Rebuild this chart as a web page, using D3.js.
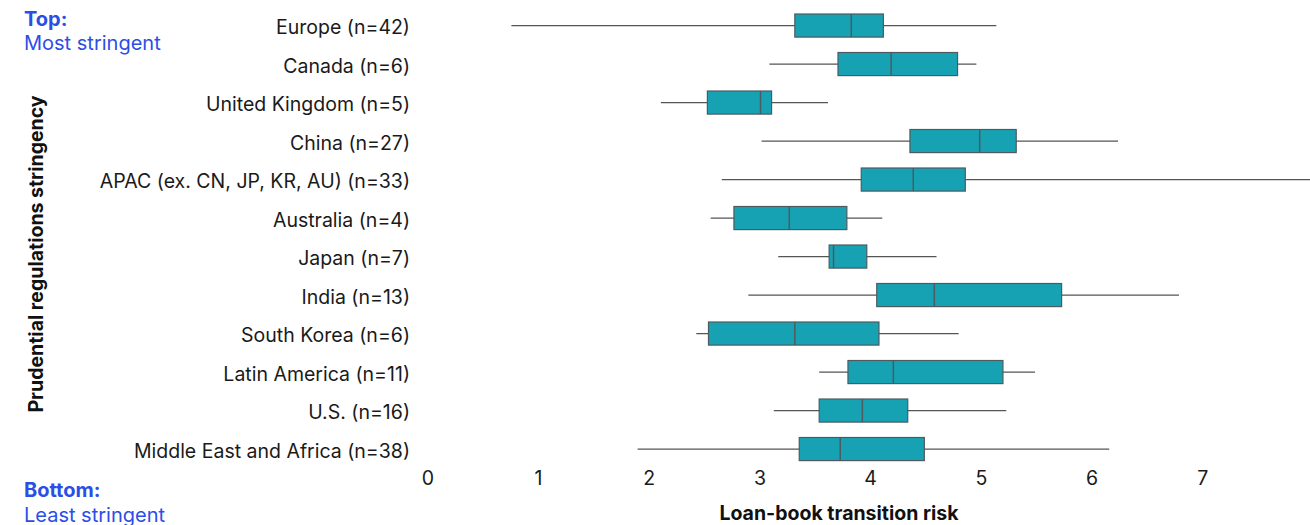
<!DOCTYPE html>
<html>
<head>
<meta charset="utf-8">
<script src="https://cdn.jsdelivr.net/npm/d3@7"></script>
<style>
  html, body { margin: 0; padding: 0; background: #fff; }
  svg { display: block; font-family: Inter, "Noto Sans", sans-serif; }
</style>
</head>
<body>
<svg id="chart" width="1310" height="525"></svg>
<script>
// Regions, ordered from most to least stringent prudential regulation
const regions = [
  "Europe (n=42)", "Canada (n=6)", "United Kingdom (n=5)", "China (n=27)",
  "APAC (ex. CN, JP, KR, AU) (n=33)", "Australia (n=4)", "Japan (n=7)",
  "India (n=13)", "South Korea (n=6)", "Latin America (n=11)",
  "U.S. (n=16)", "Middle East and Africa (n=38)"
];
// Five-number summaries of loan-book transition risk per region
const whiskerLow  = [0.76, 3.09, 2.11, 3.02, 2.66, 2.56, 3.17, 2.90, 2.43, 3.54, 3.13, 1.90];
const q1          = [3.32, 3.71, 2.53, 4.36, 3.92, 2.77, 3.63, 4.06, 2.54, 3.80, 3.54, 3.36];
const median      = [3.83, 4.19, 3.01, 4.99, 4.39, 3.27, 3.67, 4.58, 3.32, 4.21, 3.93, 3.73];
const q3          = [4.12, 4.79, 3.11, 5.32, 4.86, 3.79, 3.97, 5.73, 4.08, 5.20, 4.34, 4.49];
const whiskerHigh = [5.14, 4.96, 3.62, 6.24, 8.10, 4.11, 4.60, 6.79, 4.80, 5.49, 5.23, 6.16];
const xTicks = [0, 1, 2, 3, 4, 5, 6, 7];

const rows = regions.map((r, i) => ({
  region: r, lo: whiskerLow[i], q1: q1[i], med: median[i], q3: q3[i], hi: whiskerHigh[i]
}));

const svg = d3.select("#chart");
const FS = 19.5;

const x = d3.scaleLinear().domain([0, 8]).range([427.3, 427.3 + 8 * 110.7]);
const y = d3.scaleBand().domain(regions).range([6.3, 6.3 + 12 * 38.5]).paddingInner(0.4).paddingOuter(0.2);

const boxColor = "#17a2b4";
const boxStroke = "#4d5b60";
const lineColor = "#555";
const blue = "#2b4ee6";

const plot = svg.append("g");

// Whiskers (single horizontal line from low to high)
plot.selectAll("line.whisker").data(rows).join("line")
  .attr("class", "whisker")
  .attr("x1", d => x(d.lo)).attr("x2", d => x(d.hi))
  .attr("y1", d => y(d.region) + y.bandwidth() / 2)
  .attr("y2", d => y(d.region) + y.bandwidth() / 2)
  .attr("stroke", lineColor).attr("stroke-width", 1.2);

// Interquartile boxes
plot.selectAll("rect.box").data(rows).join("rect")
  .attr("class", "box")
  .attr("x", d => x(d.q1)).attr("width", d => x(d.q3) - x(d.q1))
  .attr("y", d => y(d.region)).attr("height", y.bandwidth())
  .attr("fill", boxColor).attr("stroke", boxStroke).attr("stroke-width", 1.2);

// Medians
plot.selectAll("line.median").data(rows).join("line")
  .attr("class", "median")
  .attr("x1", d => x(d.med)).attr("x2", d => x(d.med))
  .attr("y1", d => y(d.region)).attr("y2", d => y(d.region) + y.bandwidth())
  .attr("stroke", boxStroke).attr("stroke-width", 1.5);

// Category labels
const yAxis = d3.axisLeft(y).tickSize(0).tickPadding(0);
const gy = svg.append("g").attr("transform", "translate(410,2.5)").call(yAxis);
gy.select(".domain").remove();
gy.selectAll("text").attr("font-size", FS).attr("fill", "#1a1a1a")
  .attr("font-family", "Inter, 'Noto Sans', sans-serif");

// X axis tick labels
const xAxis = d3.axisBottom(x).tickValues(xTicks).tickSize(0).tickPadding(0).tickFormat(d3.format("d"));
const gx = svg.append("g").attr("transform", "translate(0,471)").call(xAxis);
gx.select(".domain").remove();
gx.selectAll("text").attr("font-size", FS).attr("fill", "#1a1a1a")
  .attr("font-family", "Inter, 'Noto Sans', sans-serif");

// Axis titles
svg.append("text")
  .attr("x", 839).attr("y", 520).attr("text-anchor", "middle")
  .attr("font-size", FS).attr("font-weight", 700).attr("fill", "#111")
  .text("Loan-book transition risk");

svg.append("text")
  .attr("transform", "translate(43,254) rotate(-90)")
  .attr("text-anchor", "middle")
  .attr("font-size", FS).attr("font-weight", 700).attr("fill", "#111")
  .text("Prudential regulations stringency");

// Ordering notes
const notes = [
  { t: "Top:", y: 25.5, bold: true },
  { t: "Most stringent", y: 50, bold: false },
  { t: "Bottom:", y: 497, bold: true },
  { t: "Least stringent", y: 521.5, bold: false }
];
svg.selectAll("text.note").data(notes).join("text")
  .attr("class", "note")
  .attr("x", 24).attr("y", d => d.y)
  .attr("font-size", 20).attr("fill", blue)
  .attr("font-weight", d => d.bold ? 700 : 400)
  .text(d => d.t);
</script>
</body>
</html>
